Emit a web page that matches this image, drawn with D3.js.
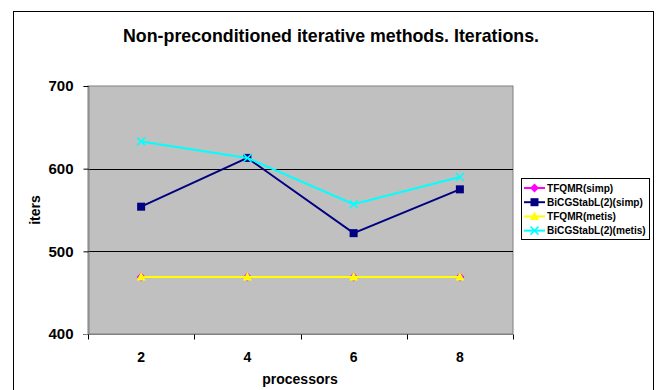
<!DOCTYPE html>
<html>
<head>
<meta charset="utf-8">
<script src="https://cdn.jsdelivr.net/npm/d3@7"></script>
<style>
body { margin: 0; background: #fff; }
text { font-family: Arial, "Liberation Sans", sans-serif; font-weight: bold; }
</style>
</head>
<body>
<svg width="659" height="390"></svg>
<script>
var processors = ["2", "4", "6", "8"];
var yTicks = [400, 500, 600, 700];
var tfqmrSimp = [469, 469, 469, 469];
var bicgSimp = [554, 613, 522, 575];
var tfqmrMetis = [469, 469, 469, 469];
var bicgMetis = [633, 613, 557, 590];

var series = [
    { name: "TFQMR(simp)", values: tfqmrSimp, color: "#ff00ff", marker: "diamond" },
    { name: "BiCGStabL(2)(simp)", values: bicgSimp, color: "#000080", marker: "square" },
    { name: "TFQMR(metis)", values: tfqmrMetis, color: "#ffff00", marker: "triangle" },
    { name: "BiCGStabL(2)(metis)", values: bicgMetis, color: "#00ffff", marker: "cross" }
];

var svg = d3.select("svg");

// outer chart border
svg.append("rect")
    .attr("x", 13.5).attr("y", 11.5)
    .attr("width", 640).attr("height", 390)
    .attr("fill", "#fff").attr("stroke", "#000").attr("stroke-width", 1);

var plot = { left: 88, top: 86, right: 513, bottom: 334 };

var x = d3.scaleBand().domain(processors).range([plot.left, plot.right]);
var y = d3.scaleLinear().domain([400, 700]).range([plot.bottom, plot.top]);

svg.append("text")
    .attr("x", 331).attr("y", 42)
    .attr("text-anchor", "middle")
    .style("font-size", "17.8px")
    .text("Non-preconditioned iterative methods. Iterations.");

svg.append("rect")
    .attr("x", plot.left).attr("y", plot.top)
    .attr("width", plot.right - plot.left).attr("height", plot.bottom - plot.top)
    .attr("fill", "#c0c0c0").attr("stroke", "#808080");

// gridlines
svg.append("g").selectAll("line")
    .data(yTicks.slice(1, -1))
    .enter().append("line")
    .attr("x1", plot.left).attr("x2", plot.right)
    .attr("y1", function(d) { return Math.round(y(d)) + 0.5; })
    .attr("y2", function(d) { return Math.round(y(d)) + 0.5; })
    .attr("stroke", "#000");

// axes
var yAxis = svg.append("g")
    .attr("transform", "translate(" + (plot.left + 0.5) + ",0)")
    .call(d3.axisLeft(y).tickValues(yTicks).tickSize(5).tickPadding(10));
yAxis.selectAll("text").style("font-size", "15px").attr("fill", "#000");
yAxis.select(".domain").attr("stroke", "#808080");
yAxis.selectAll(".tick line").attr("stroke", "#000");

var xAxis = svg.append("g")
    .attr("transform", "translate(0," + (plot.bottom + 0.5) + ")");
xAxis.append("line")
    .attr("x1", plot.left - 4).attr("x2", plot.right)
    .attr("stroke", "#808080");
xAxis.selectAll("line.tk")
    .data(processors.concat(["end"]))
    .enter().append("line")
    .attr("class", "tk")
    .attr("x1", function(d, i) { return Math.round(plot.left + i * x.bandwidth()) + 0.5; })
    .attr("x2", function(d, i) { return Math.round(plot.left + i * x.bandwidth()) + 0.5; })
    .attr("y1", 0).attr("y2", 5)
    .attr("stroke", "#000");
xAxis.selectAll("text")
    .data(processors)
    .enter().append("text")
    .attr("x", function(d) { return x(d) + x.bandwidth() / 2; })
    .attr("y", 27)
    .attr("text-anchor", "middle")
    .style("font-size", "14px")
    .text(function(d) { return d; });

svg.append("text")
    .attr("x", 300).attr("y", 384)
    .attr("text-anchor", "middle")
    .style("font-size", "14px")
    .text("processors");

svg.append("text")
    .attr("transform", "translate(40,210) rotate(-90)")
    .attr("text-anchor", "middle")
    .style("font-size", "14px")
    .text("iters");

function drawMarker(g, type, color, cx, cy) {
    if (type === "diamond") {
        g.append("path").attr("d", "M" + cx + "," + (cy - 4.5) + "L" + (cx + 4.5) + "," + cy +
            "L" + cx + "," + (cy + 4.5) + "L" + (cx - 4.5) + "," + cy + "Z").attr("fill", color);
    } else if (type === "square") {
        g.append("rect").attr("x", cx - 4).attr("y", cy - 4).attr("width", 8).attr("height", 8)
            .attr("fill", color);
    } else if (type === "triangle") {
        g.append("path").attr("d", "M" + cx + "," + (cy - 5) + "L" + (cx + 4.5) + "," + (cy + 3.5) +
            "L" + (cx - 4.5) + "," + (cy + 3.5) + "Z").attr("fill", color);
    } else {
        g.append("path").attr("d", "M" + (cx - 4) + "," + (cy - 4) + "L" + (cx + 4) + "," + (cy + 4) +
            "M" + (cx + 4) + "," + (cy - 4) + "L" + (cx - 4) + "," + (cy + 4))
            .attr("stroke", color).attr("stroke-width", 1.5).attr("fill", "none");
    }
}

var line = d3.line()
    .x(function(d, i) { return x(processors[i]) + x.bandwidth() / 2; })
    .y(function(d) { return y(d); });

series.forEach(function(s) {
    var g = svg.append("g");
    g.append("path")
        .attr("d", line(s.values))
        .attr("fill", "none")
        .attr("stroke", s.color)
        .attr("stroke-width", 2);
    s.values.forEach(function(v, i) {
        drawMarker(g, s.marker, s.color, x(processors[i]) + x.bandwidth() / 2, y(v));
    });
});

// legend
var legend = svg.append("g");
legend.append("rect")
    .attr("x", 521.5).attr("y", 178.5)
    .attr("width", 128).attr("height", 61)
    .attr("fill", "#fff").attr("stroke", "#000");
series.forEach(function(s, i) {
    var ly = 188 + i * 14.2;
    legend.append("line")
        .attr("x1", 524).attr("x2", 545)
        .attr("y1", ly).attr("y2", ly)
        .attr("stroke", s.color).attr("stroke-width", 2);
    drawMarker(legend, s.marker, s.color, 534.5, ly);
    legend.append("text")
        .attr("x", 547).attr("y", ly + 3.5)
        .style("font-size", "10.1px")
        .text(s.name);
});
</script>
</body>
</html>
